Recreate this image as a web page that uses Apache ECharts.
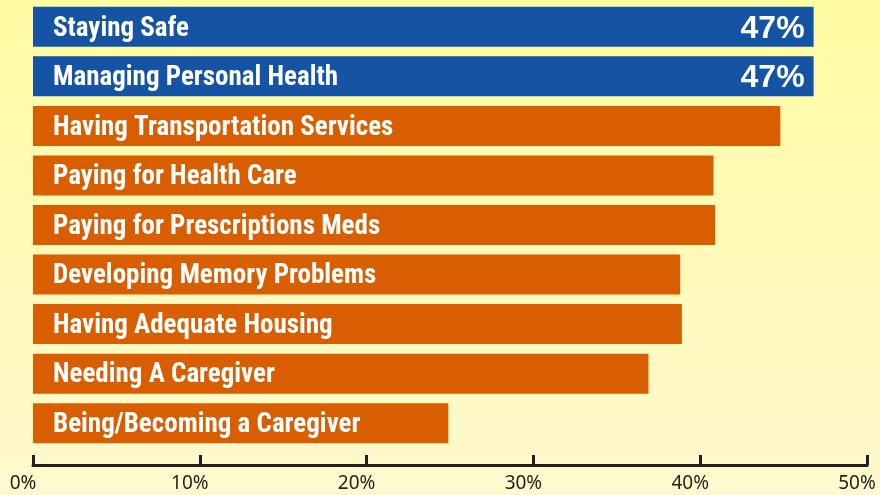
<!DOCTYPE html>
<html>
<head>
<meta charset="utf-8">
<script src="https://cdn.jsdelivr.net/npm/echarts@6/dist/echarts.min.js"></script>
<style>
  html, body { margin: 0; padding: 0; }
  #chart { width: 880px; height: 495px; }
</style>
</head>
<body>
<div id="chart"></div>
<script>
// concerns, top to bottom
const categories = [
  'Staying Safe',
  'Managing Personal Health',
  'Having Transportation Services',
  'Paying for Health Care',
  'Paying for Prescriptions Meds',
  'Developing Memory Problems',
  'Having Adequate Housing',
  'Needing A Caregiver',
  'Being/Becoming a Caregiver'
]
const values = [46.8, 46.8, 44.8, 40.8, 40.9, 38.8, 38.9, 36.9, 24.9]
const highlighted = [true, true, false, false, false, false, false, false, false]
const tickLabels = ['0%', '10%', '20%', '30%', '40%', '50%']

const BLUE = '#1553A5'
const ORANGE = '#D85E00'

const chart = echarts.init(document.getElementById('chart'))

chart.setOption({
  backgroundColor: new echarts.graphic.LinearGradient(0, 0, 0, 1, [
    { offset: 0, color: '#FFFBA2' },
    { offset: 1, color: '#FFF9CE' }
  ]),
  animation: false,
  grid: {
    left: 33,
    right: 13,
    top: 2,
    height: 446
  },
  xAxis: {
    type: 'value',
    min: 0,
    max: 50,
    interval: 10,
    offset: 17,
    splitLine: { show: false },
    axisLine: {
      show: true,
      lineStyle: { color: '#231F20', width: 3 }
    },
    axisTick: {
      show: true,
      inside: true,
      length: 10,
      lineStyle: { color: '#231F20', width: 3 }
    },
    axisLabel: {
      margin: 9,
      color: '#231F20',
      fontFamily: 'Noto Sans',
      fontSize: 19,
      align: 'center',
      padding: [0, 20, 0, 0],
      formatter: (v) => tickLabels[Math.round(v / 10)]
    }
  },
  yAxis: {
    type: 'category',
    inverse: true,
    data: categories,
    axisLine: { show: false },
    axisTick: { show: false },
    axisLabel: { show: false }
  },
  series: [
    {
      type: 'bar',
      barWidth: 40,
      data: values.map((v, i) => ({
        value: v,
        itemStyle: { color: highlighted[i] ? BLUE : ORANGE }
      })),
      label: {
        show: true,
        position: 'insideLeft',
        distance: 20,
        offset: [0, 2],
        formatter: '{b}',
        color: '#fff',
        fontFamily: '"Roboto Condensed", "DejaVu Sans Condensed", Roboto, sans-serif',
        fontWeight: 'bold',
        fontSize: 27
      }
    },
    {
      // second layer only for the percent text on the blue bars
      type: 'bar',
      barWidth: 40,
      barGap: '-100%',
      silent: true,
      itemStyle: { color: 'transparent' },
      data: values.map((v, i) => ({
        value: v,
        label: { show: highlighted[i] }
      })),
      label: {
        position: 'insideRight',
        distance: 9,
        offset: [0, 2],
        formatter: (p) => Math.round(p.value) + '%',
        color: '#fff',
        fontFamily: 'Liberation Sans',
        fontWeight: 'bold',
        fontSize: 32
      }
    }
  ]
})
</script>
</body>
</html>
